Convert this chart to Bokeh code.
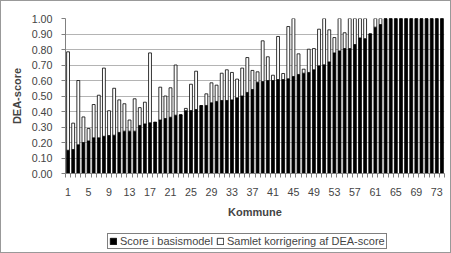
from bokeh.plotting import figure
from bokeh.layouts import column
from bokeh.models import FixedTicker, PrintfTickFormatter, Legend, LegendItem, ColumnDataSource, Range1d
from bokeh.embed import file_html
from bokeh.resources import INLINE

kommune = list(range(1, 75))
score_basis = [
    0.150, 0.155, 0.185, 0.200, 0.210, 0.230, 0.230, 0.240, 0.245, 0.247,
    0.265, 0.273, 0.273, 0.273, 0.310, 0.320, 0.327, 0.330, 0.345, 0.355,
    0.363, 0.376, 0.378, 0.405, 0.406, 0.413, 0.437, 0.439, 0.456, 0.465,
    0.471, 0.471, 0.475, 0.488, 0.500, 0.523, 0.542, 0.589, 0.594, 0.600,
    0.600, 0.606, 0.606, 0.611, 0.626, 0.639, 0.647, 0.652, 0.669, 0.695,
    0.701, 0.720, 0.778, 0.791, 0.806, 0.806, 0.832, 0.875, 0.870, 0.900,
    0.944, 0.961, 1.000, 1.000, 1.000, 1.000, 1.000, 1.000, 1.000, 1.000,
    1.000, 1.000, 1.000, 1.000,
]
korrigering = [
    0.635, 0.170, 0.415, 0.165, 0.080, 0.215, 0.275, 0.440, 0.160, 0.303,
    0.210, 0.177, 0.072, 0.209, 0.115, 0.140, 0.451, 0.000, 0.212, 0.145,
    0.190, 0.324, 0.000, 0.015, 0.170, 0.247, 0.000, 0.075, 0.129, 0.105,
    0.176, 0.198, 0.177, 0.121, 0.180, 0.225, 0.123, 0.067, 0.262, 0.153,
    0.034, 0.278, 0.039, 0.337, 0.374, 0.133, 0.026, 0.150, 0.137, 0.236,
    0.299, 0.207, 0.099, 0.209, 0.102, 0.194, 0.168, 0.125, 0.130, 0.000,
    0.056, 0.039, 0.000, 0.000, 0.000, 0.000, 0.000, 0.000, 0.000, 0.000,
    0.000, 0.000, 0.000, 0.000,
]
x_tick_labels = [1, 5, 9, 13, 17, 21, 25, 29, 33, 37, 41, 45, 49, 53, 57, 61, 65, 69, 73]
y_ticks = [0.0, 0.1, 0.2, 0.3, 0.4, 0.5, 0.6, 0.7, 0.8, 0.9, 1.0]
series_names = ["Score i basismodel", "Samlet korrigering af DEA-score"]
series_fill = ["black", "white"]

FONT = "Liberation Sans"
GRID = "#b4b4b4"
AXIS = "#808080"

src = ColumnDataSource(dict(x=kommune, basis=score_basis, korr=korrigering))

p = figure(width=449, height=230, output_backend="svg", toolbar_location=None,
           x_range=Range1d(0.5, len(kommune) + 0.5), y_range=Range1d(0, 1.0),
           min_border_left=64, min_border_right=6, min_border_top=17, min_border_bottom=58)
p.outline_line_color = None
p.background_fill_color = "white"
p.border_fill_color = "white"

p.vbar_stack(["basis", "korr"], x="x", width=0.56, source=src,
             fill_color=series_fill, line_color="black", line_width=0.8)

p.xgrid.grid_line_color = None
p.ygrid.grid_line_color = GRID
p.ygrid.ticker = FixedTicker(ticks=y_ticks)

xa = p.xaxis[0]
xa.ticker = FixedTicker(ticks=x_tick_labels, minor_ticks=[i + 0.5 for i in range(0, len(kommune) + 1)])
xa.major_tick_out = 0
xa.major_tick_in = 0
xa.minor_tick_out = 4
xa.minor_tick_in = 0
xa.minor_tick_line_color = AXIS
xa.axis_line_color = AXIS
xa.major_label_standoff = 10
xa.major_label_text_font = FONT
xa.major_label_text_font_size = "10.7px"
xa.axis_label = "Kommune"
xa.axis_label_text_font = FONT
xa.axis_label_text_font_style = "bold"
xa.axis_label_text_font_size = "11px"
xa.axis_label_standoff = 7

ya = p.yaxis[0]
ya.ticker = FixedTicker(ticks=y_ticks)
ya.formatter = PrintfTickFormatter(format="%.2f")
ya.major_tick_out = 4
ya.major_tick_in = 0
ya.minor_tick_out = 0
ya.minor_tick_in = 0
ya.major_tick_line_color = AXIS
ya.axis_line_color = AXIS
ya.major_label_standoff = 9
ya.major_label_text_font = FONT
ya.major_label_text_font_size = "10.7px"
ya.axis_label = "DEA-score"
ya.axis_label_text_font = FONT
ya.axis_label_text_font_style = "bold"
ya.axis_label_text_font_size = "11px"
ya.axis_label_standoff = 6

# Legend strip below the chart (its frame is aligned with the chart's frame)
lf = figure(width=449, height=21, output_backend="svg", toolbar_location=None,
            x_range=Range1d(0, 1), y_range=Range1d(0, 1),
            x_axis_type=None, y_axis_type=None,
            min_border_left=0, min_border_right=0, min_border_top=0, min_border_bottom=0)
lf.outline_line_color = None
lf.grid.grid_line_color = None
lf.background_fill_color = "white"
lf.border_fill_color = "white"
nan = float("nan")
r0 = lf.vbar(x=[nan], top=[nan], width=0.5, fill_color=series_fill[0], line_color="black", line_width=0.8)
r1 = lf.vbar(x=[nan], top=[nan], width=0.5, fill_color=series_fill[1], line_color="black", line_width=0.8)

legend = Legend(items=[LegendItem(label=series_names[0], renderers=[r0]),
                       LegendItem(label=series_names[1], renderers=[r1])],
                orientation="horizontal", location=(42, 3),
                label_text_font=FONT, label_text_font_size="11px",
                glyph_width=8, glyph_height=8, label_height=8, label_standoff=3,
                spacing=3, padding=1, margin=0,
                border_line_color="black", border_line_width=1,
                background_fill_color="white", background_fill_alpha=1)
lf.add_layout(legend, "center")

layout = column(p, lf, spacing=0, styles={"border": "1px solid #999999"})

open("out.html", "w").write(file_html(layout, INLINE))
